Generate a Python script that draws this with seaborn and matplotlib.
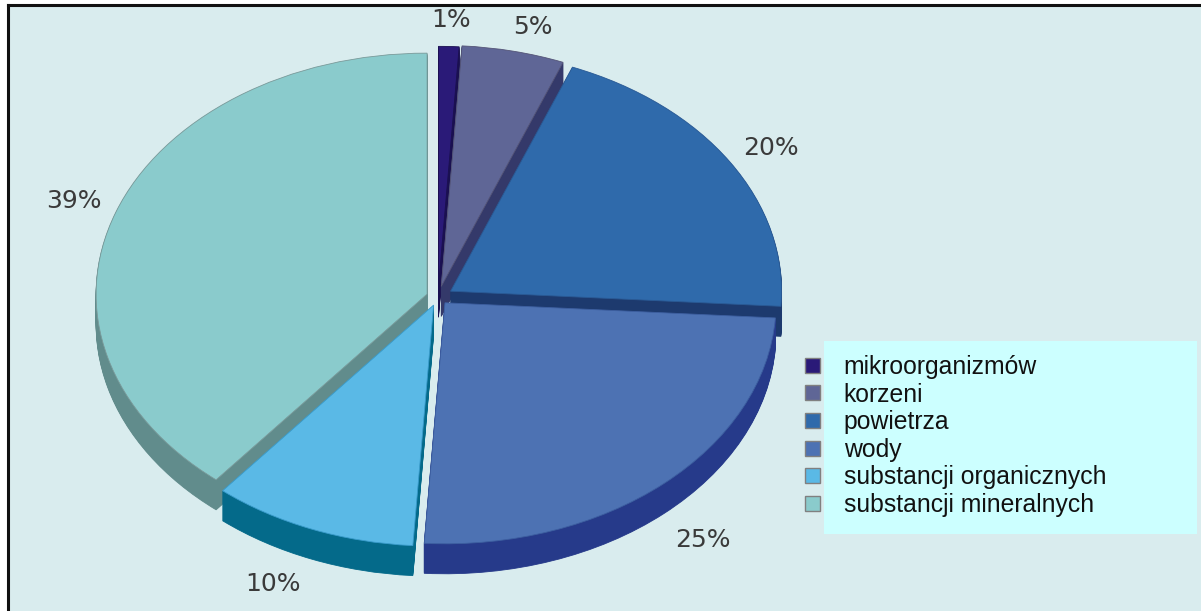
import numpy as np
import matplotlib
matplotlib.use("Agg")
import matplotlib.pyplot as plt
from matplotlib.patches import Patch, Rectangle
import seaborn as sns

categories = ["mikroorganizmów", "korzeni", "powietrza", "wody",
              "substancji organicznych", "substancji mineralnych"]
values = [1, 5, 20, 25, 10, 39]
pct_labels = ["1%", "5%", "20%", "25%", "10%", "39%"]

top_colors = ["#2a1a78", "#5f6696", "#2f6aab", "#4d72b3", "#5ab9e6", "#8acbcc"]
side_colors = ["#1a1050", "#34396a", "#1d3a6e", "#263a8a", "#046a8a", "#618c8c"]
edge_colors = ["#1a1050", "#555577", "#2a5a95", "#3d5fa0", "#3a9ccc", "#7a9a9a"]
explode = [0.04, 0.045, 0.045, 0.032, 0.036, 0.035]
label_x = [0.04, 0.287, 1.006, 0.80, -0.50, -1.10]
label_y = [1.15, 1.12, 0.618, -1.01, -1.19, 0.40]

W, H = 1201, 611
CX, CY, RX, RY = 438, 297, 331, 241
DEPTH_PX = 30
BG = "#d9ecee"

sns.set_theme(style="white")
plt.rcParams["font.family"] = ["Liberation Sans", "DejaVu Sans"]

fig = plt.figure(figsize=(W / 100, H / 100), dpi=100, facecolor="white")
ax = fig.add_axes([8 / W, 0, (W - 8) / W, (H - 5) / H])

# extruded side, bottom layer first
for step in range(DEPTH_PX, 0, -1):
    ax.pie(values, explode=explode, colors=side_colors, startangle=90,
           counterclock=False, center=(0, -step / RY),
           wedgeprops=dict(linewidth=0.6, edgecolor="none"))
    for w, c in zip(ax.patches[-len(values):], side_colors):
        w.set_edgecolor(c)

wedges, _ = ax.pie(values, explode=explode, colors=top_colors, startangle=90,
                   counterclock=False, center=(0, 0),
                   wedgeprops=dict(linewidth=0.6))
for w, c in zip(wedges, edge_colors):
    w.set_edgecolor(c)

# the circle of pie() is stretched to the reference's ellipse by the axis limits
ax.set_aspect("auto")
ax.set_xlim((8 - CX) / RX, (W - CX) / RX)
ax.set_ylim((CY - H) / RY, (CY - 5) / RY)
ax.set_xticks([])
ax.set_yticks([])
ax.set_frame_on(True)
ax.set_facecolor(BG)
for s in ("right", "bottom"):
    ax.spines[s].set_visible(False)
for s in ("left", "top"):
    ax.spines[s].set_color("#111111")
    ax.spines[s].set_linewidth(2.2)

for x, y, lab in zip(label_x, label_y, pct_labels):
    ax.text(x, y, lab, ha="center", va="center",
            fontsize=18, color="#3a3a3a", family="DejaVu Sans")

# legend panel
ax.add_patch(Rectangle((824 / W, 1 - 534 / H), 373 / W, 193 / H,
                       transform=fig.transFigure, facecolor="#ccffff",
                       edgecolor="none", zorder=1))
handles = [Patch(facecolor=c, edgecolor="#808080", linewidth=1) for c in top_colors]
leg = ax.legend(handles, categories, loc="upper left",
                bbox_to_anchor=(805 / W, 1 - 355 / H),
                bbox_transform=fig.transFigure, frameon=False, fontsize=17.8,
                labelspacing=0.146, handlelength=0.6, handleheight=0.56,
                handletextpad=0.97, borderpad=0, borderaxespad=0,
                labelcolor="#111111")
leg.set_zorder(5)

fig.savefig("out.png", dpi=100)
